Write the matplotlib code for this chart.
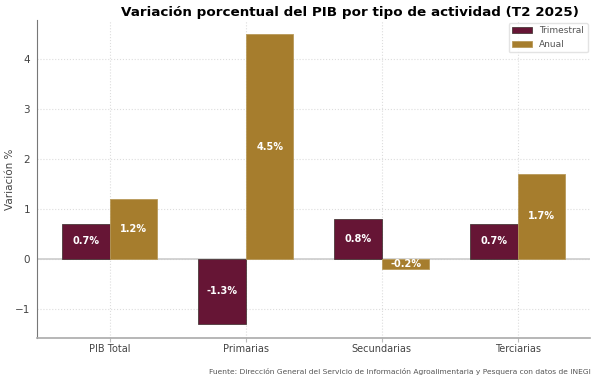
import matplotlib
matplotlib.use('Agg')
import matplotlib.pyplot as plt
import numpy as np

# Datos (T2 2025)
categorias = ['PIB Total', 'Primarias', 'Secundarias', 'Terciarias']
trimestral = [0.7, -1.3, 0.8, 0.7]
anual = [1.2, 4.5, -0.2, 1.7]

col_trim = '#661535'
col_anual = '#A67D2D'

fig, ax = plt.subplots(figsize=(6, 3.85), dpi=100)
fig.subplots_adjust(left=0.062, right=0.984, top=0.948, bottom=0.122)

x = np.arange(len(categorias))
w = 0.35
b1 = ax.bar(x - w / 2, trimestral, w, color=col_trim, edgecolor='#4a3a3a', linewidth=0.6, label='Trimestral', zorder=3)
b2 = ax.bar(x + w / 2, anual, w, color=col_anual, edgecolor='#b89a5a', linewidth=0.6, label='Anual', zorder=3)

for bars, vals in ((b1, trimestral), (b2, anual)):
	for rect, v in zip(bars, vals):
		ax.text(rect.get_x() + rect.get_width() / 2, v / 2, f'{v}%', ha='center', va='center',
				color='white', fontsize=7, fontweight='bold', zorder=4)

ax.axhline(0, color='#cccccc', linewidth=1.2, zorder=2)
ax.set_xticks(x)
ax.set_xticklabels(categorias, fontsize=7, color='#444444')
ax.tick_params(axis='y', labelsize=7.5, colors='#444444', length=0, pad=5)
ax.tick_params(axis='x', length=3, color='#bbbbbb', pad=1.5)
ax.set_ylabel('Variación %', fontsize=7.5, color='#444444')
ax.yaxis.set_label_coords(-0.041, 0.5)

# titulo centrado un poco a la derecha, como en la original
fig.text(0.583, 0.968, 'Variación porcentual del PIB por tipo de actividad (T2 2025)',
		 ha='center', va='center', fontsize=9.7, fontweight='bold')

ax.grid(True, linestyle=':', color='#dddddd', linewidth=0.8, zorder=0)
ax.spines['top'].set_visible(False)
ax.spines['right'].set_visible(False)
ax.spines['left'].set_color('#777777')
ax.spines['left'].set_linewidth(0.8)
ax.spines['bottom'].set_color('#aaaaaa')
ax.spines['bottom'].set_linewidth(1.2)

ax.legend(loc='upper right', fontsize=6.5, frameon=True, edgecolor='#dddddd', handlelength=2.2,
		  labelcolor='#555555', borderaxespad=0.3)

fig.text(0.985, 0.025, 'Fuente: Dirección General del Servicio de Información Agroalimentaria y Pesquera con datos de INEGI',
		 ha='right', va='bottom', fontsize=5.4, color='#555555')

plt.savefig('out.png', dpi=100)
